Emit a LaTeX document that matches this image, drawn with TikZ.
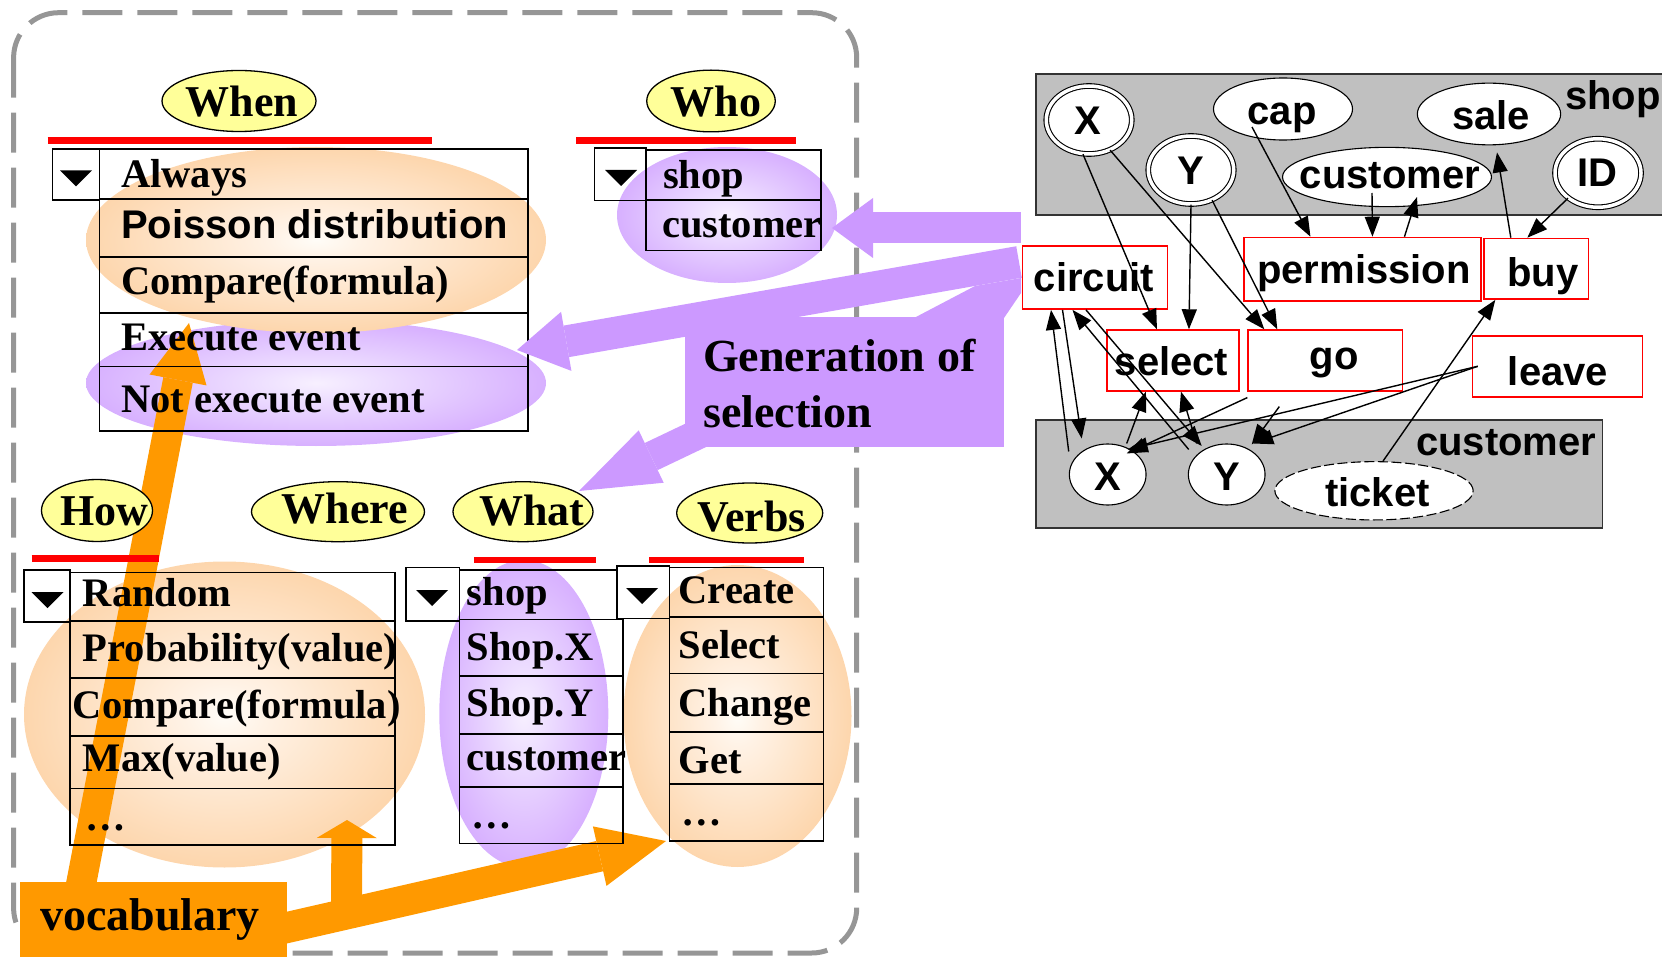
\documentclass[tikz,border=0pt]{standalone}
\usepackage{fontspec}
\setmainfont{Liberation Serif}
\setsansfont{Liberation Sans}
\usetikzlibrary{arrows.meta,shapes.geometric}

\definecolor{lblyellow}{RGB}{255,255,153}
\definecolor{vocorange}{RGB}{255,153,0}
\definecolor{genpurple}{RGB}{204,153,255}
\definecolor{boxgray}{RGB}{192,192,192}
\definecolor{framegray}{RGB}{150,150,150}
\definecolor{rulered}{RGB}{255,0,0}

% soft glows behind the option lists
\pgfdeclareradialshading{orangeglow}{\pgfpoint{0bp}{0bp}}{rgb(0bp)=(1,0.99,0.97); rgb(5bp)=(1,0.95,0.90); rgb(32bp)=(0.99,0.80,0.60); rgb(50bp)=(0.988,0.78,0.57)}
\pgfdeclareradialshading{purpleglow}{\pgfpoint{0bp}{0bp}}{rgb(0bp)=(0.97,0.94,1); rgb(5bp)=(0.94,0.89,1); rgb(32bp)=(0.81,0.62,1); rgb(50bp)=(0.80,0.60,1)}

\newcommand\tblfont{\bfseries\fontsize{40.5}{46}\selectfont}
\newcommand\ddtri[2]{\fill (#1-16,#2-4) -- (#1+16,#2-4) -- (#1,#2+12) -- cycle;}

\begin{document}
\begin{tikzpicture}[x=1pt,y=-1pt,
  lbl/.style={ellipse, draw, fill=lblyellow, line width=1.3pt, inner sep=0pt},
  lbltext/.style={font=\bfseries\fontsize{44}{50}\selectfont, inner sep=0pt, anchor=base},
  cell/.style={font=\tblfont, inner sep=0pt, anchor=base west},
  tbl/.style={draw=black, line width=1.6pt},
  redrule/.style={draw=rulered, line width=6.5pt},
  bigtext/.style={font=\bfseries\fontsize{46}{52}\selectfont, inner sep=0pt, anchor=base west},
  graybox/.style={draw=black!80, line width=1.6pt, fill=boxgray, anchor=north west, inner sep=0pt},
  dblel/.style={ellipse, draw, fill=white, line width=1.1pt, double=white, double distance=3.5pt, inner sep=0pt},
  gel/.style={ellipse, draw, fill=white, line width=1.1pt, inner sep=0pt},
  redbox/.style={draw=rulered, line width=1.6pt, anchor=north west, inner sep=0pt},
  gtext/.style={font=\sffamily\bfseries\fontsize{40}{44}\selectfont, inner sep=0pt, anchor=base},
  garrow/.style={-{Triangle[length=20pt,width=15pt]}, line width=1.4pt, black},
]
\useasboundingbox (0,0) rectangle (1662,957);

% dashed frame around the option panel
\draw[framegray, line width=5pt, dash pattern=on 40pt off 15pt, rounded corners=45pt]
  (13.6,12.7) rectangle (856.7,953);

% glows
\path[shading=purpleglow] (316,383) ellipse [x radius=230pt, y radius=63pt];
\path[shading=orangeglow] (316,240) ellipse [x radius=230pt, y radius=93pt];
\path[shading=purpleglow] (727,215) ellipse [x radius=110pt, y radius=68pt];
\path[shading=orangeglow] (224.5,714.5) ellipse [x radius=200.5pt, y radius=153pt];
\path[shading=purpleglow] (523.8,713.7) ellipse [x radius=84.5pt, y radius=153.7pt];
\path[shading=orangeglow] (737.5,716) ellipse [x radius=114pt, y radius=151pt];

% vocabulary block and its arrows
\node[fill=vocorange, inner sep=0pt, minimum width=266.6pt, minimum height=80pt, anchor=north west] (vocab) at (20,881.7) {};
\coordinate (a1s) at (78,900);
\coordinate (a1e) at (189,323);
\coordinate (a2s) at (346.5,905);
\coordinate (a2e) at (347,820);
\coordinate (a3s) at (250,936);
\coordinate (a3e) at (666,841);
\draw[draw=vocorange, line width=30pt, -{Triangle[length=58pt,width=58pt,line width=0pt]}] (a1s) -- (a1e);
\draw[draw=vocorange, line width=31pt, -{Triangle[length=18pt,width=60pt,line width=0pt]}] (a2s) -- (a2e);
\draw[draw=vocorange, line width=31pt, -{Triangle[length=68pt,width=61pt,line width=0pt]}] (a3s) -- (a3e);
\node[font=\bfseries\fontsize{46}{50}\selectfont, inner sep=0pt, anchor=base west] (vocabtext) at (40,930) {vocabulary};

% category labels
\node[lbl, minimum width=154pt, minimum height=61pt] (when) at (239,101) {};
\node[lbltext] (whentext) at (242,116.7) {When};
\node[lbl, minimum width=128.5pt, minimum height=61.7pt] (who) at (711,101) {};
\node[lbltext] (whotext) at (715.8,116.7) {Who};
\node[lbl, minimum width=111pt, minimum height=62pt] (how) at (97,510.5) {};
\node[lbltext] (howtext) at (104,525) {How};
\node[lbl, minimum width=173pt, minimum height=60pt] (where) at (338,511.7) {};
\node[lbltext] (wheretext) at (345,523.3) {Where};
\node[lbl, minimum width=140pt, minimum height=60pt] (what) at (523,511.7) {};
\node[lbltext] (whattext) at (531.7,525) {What};
\node[lbl, minimum width=146pt, minimum height=60pt] (verbs) at (749.7,513) {};
\node[lbltext] (verbstext) at (751.7,531.7) {Verbs};

% red rules
\draw[redrule, line width=7pt] (47.5,140.3) -- (432,140.3);
\draw[redrule, line width=7pt] (576,140.5) -- (796,140.5);
\draw[redrule] (31.7,558.3) -- (159.3,558.3);
\draw[redrule, line width=5.5pt] (474,560) -- (596,560);
\draw[redrule, line width=5.5pt] (649.3,560) -- (804,560);

% When list
\draw[tbl] (52.5,149) rectangle (99.3,200);
\ddtri{76}{174.5}
\draw[tbl] (99.3,149) rectangle (528,199);
\draw[tbl] (99.3,199) rectangle (528,257.3);
\draw[tbl] (99.3,257.3) rectangle (528,313.3);
\draw[tbl] (99.3,313.3) rectangle (528,366.7);
\draw[tbl] (99.3,366.7) rectangle (528,431);
\node[cell] (w1) at (121,188) {Always};
\node[cell, font=\sffamily\bfseries\fontsize{40}{46}\selectfont] (w2) at (121,239) {Poisson distribution};
\node[cell] (w3) at (121,295) {Compare(formula)};
\node[cell] (w4) at (121,351) {Execute event};
\node[cell] (w5) at (121,412) {Not execute event};

% Who list
\draw[tbl] (594.5,148) rectangle (646,200.7);
\ddtri{621}{174}
\draw[tbl] (646,150) rectangle (821,200);
\draw[tbl] (646,200) rectangle (821,250.7);
\node[cell] (o1) at (663,188.3) {shop};
\node[cell] (o2) at (662,238) {customer};

% How list
\draw[tbl] (24,570) rectangle (70,622);
\ddtri{47.5}{596}
\draw[tbl] (70,572.3) rectangle (395,621);
\draw[tbl] (70,621) rectangle (395,677.7);
\draw[tbl] (70,677.7) rectangle (395,735.7);
\draw[tbl] (70,735.7) rectangle (395,788.3);
\draw[tbl] (70,788.3) rectangle (395,845);
\node[cell] (h1) at (82.7,606.7) {Random};
\node[cell] (h2) at (82.7,661.7) {Probability(value)};
\node[cell] (h3) at (72.7,718.3) {Compare(formula)};
\node[cell] (h4) at (82.7,771.7) {Max(value)};
\node[cell] (h5) at (85,830) {\textellipsis};

% What list
\draw[tbl] (406,567.3) rectangle (459.3,620.7);
\ddtri{432}{594}
\draw[tbl] (459.3,570) rectangle (616.7,619.3);
\draw[tbl] (459.3,619.3) rectangle (622.7,676);
\draw[tbl] (459.3,676) rectangle (622.7,734);
\draw[tbl] (459.3,734) rectangle (622.7,786.7);
\draw[tbl] (459.3,786.7) rectangle (622.7,843.3);
\node[cell] (x1) at (466.7,605) {shop};
\node[cell] (x2) at (466.7,660) {Shop.X};
\node[cell] (x3) at (466.7,716.7) {Shop.Y};
\node[cell] (x4) at (466.7,770) {customer};
\node[cell] (x5) at (471.7,828) {\textellipsis};

% Verbs list
\draw[tbl] (616.7,566) rectangle (669.3,618.3);
\ddtri{642}{592}
\draw[tbl] (669.3,567.3) rectangle (823.3,616.7);
\draw[tbl] (669.3,616.7) rectangle (823.3,673.3);
\draw[tbl] (669.3,673.3) rectangle (823.3,731.7);
\draw[tbl] (669.3,731.7) rectangle (823.3,784);
\draw[tbl] (669.3,784) rectangle (823.3,840.7);
\node[cell] (v1) at (678.3,603.3) {Create};
\node[cell] (v2) at (678.3,658.3) {Select};
\node[cell] (v3) at (678.3,716.7) {Change};
\node[cell] (v4) at (678.3,773.3) {Get};
\node[cell] (v5) at (681.7,825) {\textellipsis};

% generation of selection
\node[fill=genpurple, inner sep=0pt, minimum width=319pt, minimum height=130pt, anchor=north west] (gen) at (685,317) {};
\fill[genpurple] (975,286) -- (1021,278) -- (1021,293) -- (1004,318) -- (914,318) -- cycle;
\coordinate (p1s) at (1021,228);
\coordinate (p1e) at (832,228);
\coordinate (p2s) at (1019,262);
\coordinate (p2e) at (517,350);
\coordinate (p3s) at (709,429);
\coordinate (p3e) at (579,491);
\draw[draw=genpurple, line width=31pt, -{Triangle[length=41pt,width=60pt,line width=0pt]}] (p1s) -- (p1e);
\draw[draw=genpurple, line width=32pt, -{Triangle[length=50pt,width=60pt,line width=0pt]}] (p2s) -- (p2e);
\draw[draw=genpurple, line width=30pt, -{Triangle[length=80pt,width=58pt,line width=0pt]}] (p3s) -- (p3e);
\node[bigtext] (gen1) at (703,372) {Generation of};
\node[bigtext] (gen2) at (703,427) {selection};

% shop and customer models
\node[graybox, minimum width=640pt, minimum height=140.7pt] (shopbox) at (1035,73.3) {};
\node[graybox, minimum width=566.6pt, minimum height=107.7pt] (custbox) at (1035,419.3) {};

\node[dblel, minimum width=85.5pt, minimum height=68pt] (sX) at (1089,120) {};
\node[dblel, minimum width=85.5pt, minimum height=68pt] (sY) at (1191,170) {};
\node[dblel, minimum width=86pt, minimum height=68.5pt] (sID) at (1598,173) {};
\node[gel, minimum width=139pt, minimum height=62pt] (cap) at (1283,109) {};
\node[gel, minimum width=143.3pt, minimum height=61.7pt] (sale) at (1489,114) {};
\node[gel, minimum width=209pt, minimum height=59.3pt] (scust) at (1387,177) {};
\node[gel, minimum width=76.7pt, minimum height=61pt] (cX) at (1107.7,474.5) {};
\node[gel, minimum width=76.7pt, minimum height=61pt] (cY) at (1226.7,474.5) {};
\node[gel, dash pattern=on 10pt off 3.5pt, minimum width=198.3pt, minimum height=58.3pt] (ticket) at (1374,490.8) {};

\node[redbox, minimum width=145pt, minimum height=63.3pt] (circ) at (1021.7,245) {};
\node[redbox, minimum width=236.7pt, minimum height=63.3pt] (perm) at (1243.3,236.7) {};
\node[redbox, minimum width=104.4pt, minimum height=60.6pt] (buy) at (1483.3,237.7) {};
\node[redbox, minimum width=132.3pt, minimum height=60.7pt] (sel) at (1106,329.3) {};
\node[redbox, minimum width=154.4pt, minimum height=60.7pt] (go) at (1247.3,329.3) {};
\node[redbox, minimum width=170pt, minimum height=61pt] (leave) at (1471.7,335) {};

\node[gtext] (tsX) at (1088,135) {X};
\node[gtext] (tsY) at (1191,185) {Y};
\node[gtext] (tcap) at (1282,125) {cap};
\node[gtext] (tsale) at (1491,130) {sale};
\node[gtext] (tscust) at (1390,188.3) {customer};
\node[gtext] (tsID) at (1597.5,186.7) {ID};
\node[gtext, anchor=base west] (tshop) at (1565,110) {shop};
\node[gtext] (tcirc) at (1094,291.7) {circuit};
\node[gtext] (tperm) at (1364,283.3) {permission};
\node[gtext] (tbuy) at (1543,286.7) {buy};
\node[gtext] (tsel) at (1171.5,375) {select};
\node[gtext] (tgo) at (1334,370) {go};
\node[gtext] (tleave) at (1558,385) {leave};
\node[gtext, anchor=base west] (tcust) at (1416,455) {customer};
\node[gtext] (tcX) at (1108.3,490) {X};
\node[gtext] (tcY) at (1226.7,490) {Y};
\node[gtext] (tticket) at (1377.5,506.7) {ticket};

% relations
\draw[garrow] (sX.-100) -- ([xshift=-16pt]sel.north);
\draw[garrow] (sX.-55) -- ([xshift=-61pt]go.north);
\draw[garrow] (sY.south) -- ([xshift=16pt]sel.north);
\draw[garrow] (sY.-55) -- ([xshift=-48pt]go.north);
\draw[garrow] ([xshift=-31pt,yshift=-18pt]cap.center) -- ([xshift=-52pt]perm.north);
\draw[garrow] ([xshift=-15pt,yshift=-16pt]scust.center) -- ([xshift=10pt]perm.north);
\draw[garrow] ([xshift=42pt]perm.north) -- ([xshift=30pt,yshift=-20pt]scust.center);
\draw[garrow] ([xshift=-25.5pt]buy.north) -- ([xshift=8pt,yshift=-7pt]sale.south);
\draw[garrow] (sID.-140) -- ([xshift=-9pt]buy.north);
\draw[garrow] ([xshift=9pt]ticket.north) -- ([xshift=12pt]buy.south west);
\draw[garrow] ([xshift=-32.5pt]circ.south) -- ([xshift=-26pt,yshift=36pt]cX.center);
\draw[garrow] ([xshift=-39pt,yshift=23pt]cX.center) -- ([xshift=-44pt]circ.south);
\draw[garrow] ([xshift=-38pt,yshift=25pt]cY.center) -- ([xshift=-22.5pt]circ.south);
\draw[garrow] ([xshift=-9pt]circ.south) -- ([xshift=-25pt,yshift=28.5pt]cY.center);
\draw[garrow] ([xshift=19pt,yshift=31pt]cX.center) -- ([xshift=-27pt]sel.south);
\draw[garrow] ([xshift=-30pt,yshift=31pt]cY.center) -- ([xshift=8pt]sel.south);
\draw[garrow] ([yshift=-6pt]go.south west) -- ([xshift=19pt,yshift=21pt]cX.center);
\draw[garrow] ([xshift=-46pt,yshift=-15pt]go.south) -- ([xshift=25pt,yshift=30pt]cY.center);
\draw[garrow] ([xshift=6pt]leave.west) -- ([xshift=20pt,yshift=25pt]cX.center);
\draw[garrow] ([xshift=6pt]leave.west) -- ([xshift=26.5pt,yshift=31pt]cY.center);
\end{tikzpicture}
\end{document}
